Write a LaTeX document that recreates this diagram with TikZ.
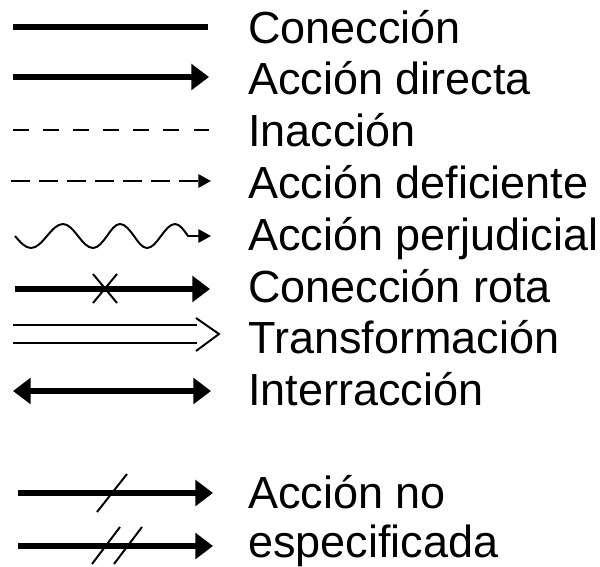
\documentclass[tikz,border=0pt]{standalone}
\usepackage{fontspec}
\setmainfont{Liberation Sans}
\usetikzlibrary{arrows.meta}
\begin{document}
\begin{tikzpicture}[x=0.025cm,y=-0.025cm,
        grueso/.style={line width=3.6pt},
        fino/.style={line width=1.4pt},
        punta/.style={-{Triangle[length=12.5pt,width=18pt]}},
        dospuntas/.style={{Triangle[length=12.5pt,width=18pt]}-{Triangle[length=12.5pt,width=18pt]}},
        puntita/.style={-{Triangle[length=9pt,width=9.5pt]}},
        texto/.style={anchor=base west,inner sep=0pt,font=\fontsize{32}{38}\selectfont}]
        \useasboundingbox (0,0) rectangle (600,567);
        % extremos
        \coordinate (a1) at (13,27);\coordinate (b1) at (208,27);
        \coordinate (a2) at (13,77);\coordinate (b2) at (209,77);
        \coordinate (a3) at (13,130);\coordinate (b3) at (209,130);
        \coordinate (a4) at (11,181);\coordinate (b4) at (211,181);
        \coordinate (a5) at (15,236);\coordinate (b5) at (211,236);
        \coordinate (a6) at (15,289);\coordinate (b6) at (210,289);
        \coordinate (a7) at (13,325);\coordinate (b7) at (197,325);
        \coordinate (c7) at (13,343);\coordinate (d7) at (197,343);
        \coordinate (a8) at (13,391);\coordinate (b8) at (211,391);
        \coordinate (a9) at (18,493);\coordinate (b9) at (213,493);
        \coordinate (a10) at (18,546);\coordinate (b10) at (213,546);
        % lineas
        \draw [grueso] (a1) -- (b1);
        \draw [grueso,punta] (a2) -- (b2);
        \draw [fino,dash pattern=on 11.4pt off 10pt] (a3) -- (b3);
        \draw [fino,dash pattern=on 13.5pt off 6.4pt,puntita] (a4) -- (b4);
        \draw [fino,puntita] (a5) sin (31,248) cos (47,236) sin (63,224) cos (78,236) sin (93,248) cos (107,236) sin (120,224) cos (134,236) sin (147,248) cos (161,236) sin (175,224) cos (188,236) -- (b5);
        \draw [grueso,punta] (a6) -- (b6);
        \draw [fino] (a7) -- (b7);\draw [fino] (c7) -- (d7);
        \draw [grueso,dospuntas] (a8) -- (b8);
        \draw [grueso,punta] (a9) -- (b9);
        \draw [grueso,punta] (a10) -- (b10);
        % marcas
        \draw [fino] (93,274) -- (117,303);\draw [fino] (93,303) -- (117,274);
        \draw [fino,line join=miter] (196,318) -- (219,334) -- (196,351);
        \draw [fino] (97,512) -- (127,474);
        \draw [fino] (92,564) -- (120,527);\draw [fino] (114,564) -- (142,527);
        % textos
        \node [texto] (t1) at (248,43) {Conección};
        \node [texto] (t2) at (248,94) {Acción directa};
        \node [texto] (t3) at (248,146) {Inacción};
        \node [texto] (t4) at (248,198) {Acción deficiente};
        \node [texto] (t5) at (248,250) {Acción perjudicial};
        \node [texto] (t6) at (248,302) {Conección rota};
        \node [texto] (t7) at (248,353) {Transformación};
        \node [texto] (t8) at (248,405) {Interracción};
        \node [texto] (t9) at (248,508) {Acción no};
        \node [texto] (t10) at (248,557) {especificada};
\end{tikzpicture}
\end{document}
